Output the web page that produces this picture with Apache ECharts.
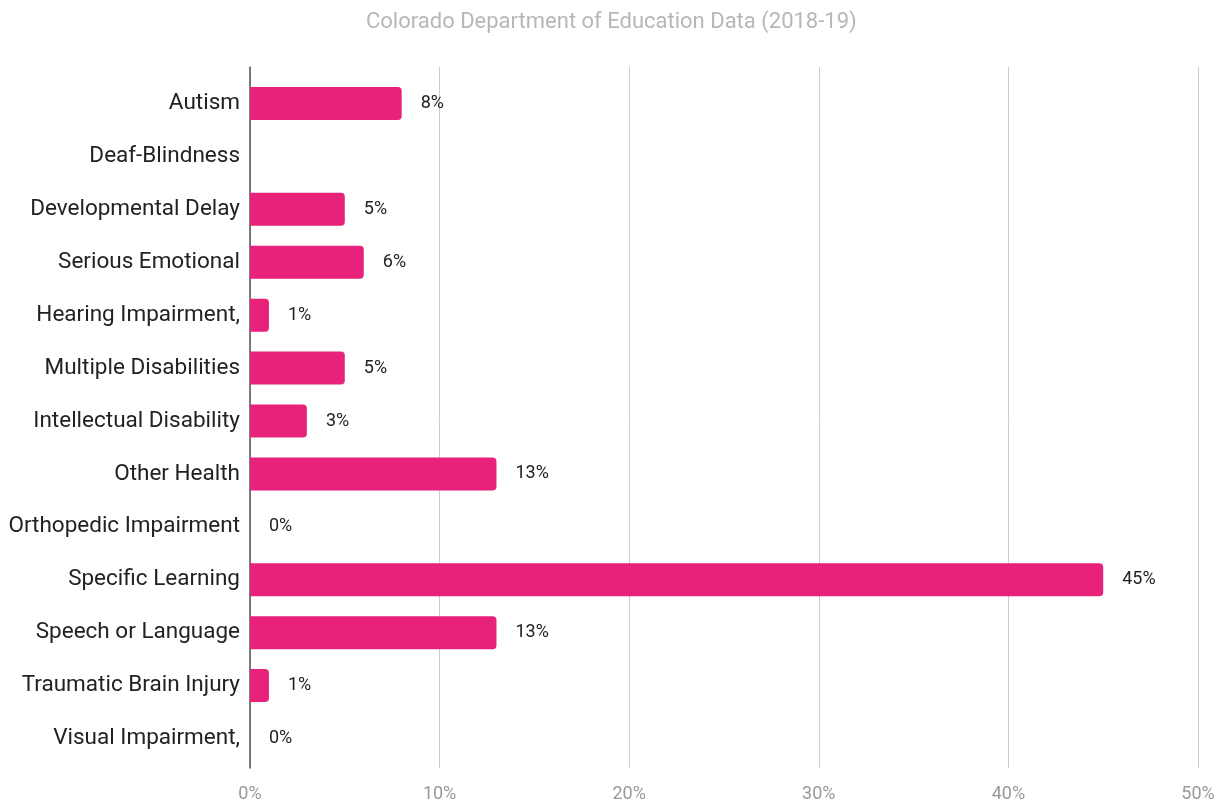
<!DOCTYPE html>
<html>
<head>
<meta charset="utf-8">
<script src="https://cdn.jsdelivr.net/npm/echarts@6/dist/echarts.min.js"></script>
<style>
html,body{margin:0;padding:0;background:#fff;}
#chart{width:1226px;height:803px;}
</style>
</head>
<body>
<div id="chart"></div>
<script>
const titleText = 'Colorado Department of Education Data (2018-19)';
const categories = ['Autism','Deaf-Blindness','Developmental Delay','Serious Emotional','Hearing Impairment,','Multiple Disabilities','Intellectual Disability','Other Health','Orthopedic Impairment','Specific Learning','Speech or Language','Traumatic Brain Injury','Visual Impairment,'];
const values = [8, null, 5, 6, 1, 5, 3, 13, 0, 45, 13, 1, 0];
const xTicks = [0, 10, 20, 30, 40, 50];

const chart = echarts.init(document.getElementById('chart'));
chart.setOption({
  animation: false,
  backgroundColor: '#ffffff',
  title: {
    text: titleText,
    left: 361,
    top: 6,
    textStyle: {fontFamily: 'Roboto', fontSize: 22, fontWeight: 'normal', color: '#b7b7b7'}
  },
  grid: [
    {left: 250, right: 28, top: 77, bottom: 38},
    {left: 250, right: 28, top: 67, bottom: 33}
  ],
  xAxis: [
    {gridIndex: 0, type: 'value', min: 0, max: 50, interval: 10, show: false},
    {gridIndex: 1, type: 'value', min: xTicks[0], max: xTicks[xTicks.length-1], interval: 10,
     axisLine: {show: false}, axisTick: {show: false},
     splitLine: {show: true, lineStyle: {color: '#cccccc', width: 1}},
     axisLabel: {formatter: '{value}%', fontFamily: 'Roboto', fontSize: 18, color: '#999999', margin: 17}}
  ],
  yAxis: [
    {gridIndex: 0, type: 'category', data: categories, inverse: true,
     axisLine: {show: false}, axisTick: {show: false}, splitLine: {show: false},
     axisLabel: {fontFamily: 'Roboto', fontSize: 22.5, color: '#222222', margin: 10}},
    {gridIndex: 1, type: 'value', min: 0, max: 1,
     axisLine: {show: true, onZero: false, lineStyle: {color: '#555555', width: 1.5}},
     axisTick: {show: false}, axisLabel: {show: false}, splitLine: {show: false}}
  ],
  series: [
    {type: 'scatter', xAxisIndex: 1, yAxisIndex: 1, data: [], silent: true},
    {type: 'bar', xAxisIndex: 0, yAxisIndex: 0, data: values, barWidth: 33,
     itemStyle: {color: '#e8217a', borderRadius: [0, 4, 4, 0]},
     label: {show: true, position: 'right', distance: 19,
       formatter: p => Math.round(p.value) + '%',
       fontFamily: 'Roboto', fontSize: 18, color: '#222222'}}
  ]
});
</script>
</body>
</html>
